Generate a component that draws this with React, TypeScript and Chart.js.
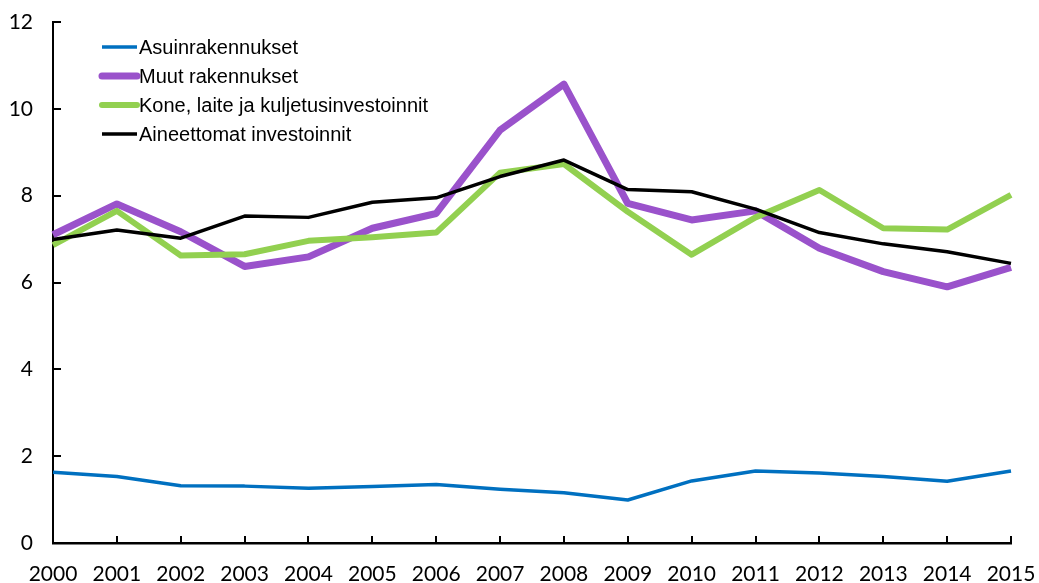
import React, { useEffect, useRef } from "react";
import { Chart, registerables } from "chart.js";

Chart.register(...registerables);

const years = ["2000","2001","2002","2003","2004","2005","2006","2007","2008","2009","2010","2011","2012","2013","2014","2015"];
const asuin = [1.63,1.53,1.32,1.31,1.26,1.30,1.35,1.24,1.16,0.99,1.43,1.66,1.61,1.53,1.42,1.66];
const muut = [7.1,7.81,7.17,6.37,6.59,7.25,7.59,9.51,10.57,7.82,7.44,7.65,6.79,6.25,5.9,6.35];
const kone = [6.86,7.65,6.62,6.65,6.96,7.04,7.15,8.53,8.73,7.63,6.64,7.5,8.13,7.25,7.22,8.02];
const aineet = [6.99,7.21,7.02,7.53,7.5,7.85,7.95,8.44,8.82,8.14,8.09,7.69,7.15,6.89,6.71,6.44];
const seriesNames = ["Asuinrakennukset","Muut rakennukset","Kone, laite ja kuljetusinvestoinnit","Aineettomat investoinnit"];
const yTicks = [0, 2, 4, 6, 8, 10, 12];

const colors = ["#0070C0", "#9A52CB", "#92D050", "#000000"];
const widths = [3.5, 7, 6, 3.5];

const innerTicks = {
  id: "innerTicks",
  afterDatasetsDraw(chart: any) {
    const { ctx, chartArea, scales } = chart;
    const x = scales.x, y = scales.y;
    ctx.save();
    ctx.strokeStyle = "#000";
    ctx.lineWidth = 2;
    ctx.beginPath();
    for (let i = 0; i < years.length; i++) {
      const px = Math.round(x.getPixelForValue(i));
      ctx.moveTo(px, chartArea.bottom);
      ctx.lineTo(px, chartArea.bottom - 7);
    }
    for (const t of yTicks) {
      const py = Math.round(y.getPixelForValue(t));
      ctx.moveTo(chartArea.left, py);
      ctx.lineTo(chartArea.left + 8, py);
    }
    ctx.stroke();
    ctx.restore();
  },
};

const customLegend = {
  id: "customLegend",
  afterDraw(chart: any) {
    const { ctx, chartArea } = chart;
    ctx.save();
    ctx.font = "20px 'Liberation Sans', Arial, sans-serif";
    ctx.textBaseline = "middle";
    ctx.fillStyle = "#000";
    seriesNames.forEach((name, i) => {
      const yy = chartArea.top + 25 + i * 29;
      const x0 = chartArea.left + 49;
      const x1 = chartArea.left + 84;
      ctx.strokeStyle = colors[i];
      ctx.lineWidth = widths[i];
      ctx.lineCap = i === 1 || i === 2 ? "round" : "butt";
      ctx.beginPath();
      ctx.moveTo(x0, yy);
      ctx.lineTo(x1, yy);
      ctx.stroke();
      ctx.fillText(name, chartArea.left + 86, yy + 1);
    });
    ctx.restore();
  },
};

export default function App() {
  const ref = useRef<HTMLCanvasElement>(null);
  useEffect(() => {
    if (!ref.current) return;
    const data = [asuin, muut, kone, aineet];
    const chart = new Chart(ref.current, {
      type: "line",
      data: {
        labels: years,
        datasets: data.map((d, i) => ({
          label: seriesNames[i],
          data: d,
          borderColor: colors[i],
          backgroundColor: colors[i],
          borderWidth: widths[i],
          pointRadius: 0,
          tension: 0,
          borderJoinStyle: "round" as const,
          order: 4 - i,
        })),
      },
      options: {
        animation: false,
        responsive: false,
        maintainAspectRatio: false,
        layout: { padding: { top: 22, right: 28, left: 0, bottom: 0 } },
        plugins: { legend: { display: false }, tooltip: { enabled: false } },
        scales: {
          x: {
            offset: false,
            grid: { display: true, drawOnChartArea: false, drawTicks: true, tickLength: 19, tickColor: "rgba(0,0,0,0)" },
            border: { display: true, color: "#000", width: 2.5 },
            ticks: {
              color: "#000",
              font: { family: "Lato, 'Open Sans', sans-serif", size: 21 },
              padding: 0,
              maxRotation: 0,
              autoSkip: false,
            },
            afterFit: (s: any) => { s.height = 40; },
          },
          y: {
            min: 0,
            max: 12,
            grid: { display: true, drawOnChartArea: false, drawTicks: true, tickLength: 20, tickColor: "rgba(0,0,0,0)" },
            border: { display: true, color: "#000", width: 2 },
            ticks: {
              stepSize: 2,
              color: "#000",
              font: { family: "Lato, 'Open Sans', sans-serif", size: 21 },
              padding: 0,
            },
            afterFit: (s: any) => { s.width = 53; },
          },
        },
      },
      plugins: [innerTicks, customLegend],
    });
    return () => chart.destroy();
  }, []);
  return (
    <div style={{ position: "fixed", left: 0, top: 0, width: 1039, height: 583, background: "#fff" }}>
      <canvas ref={ref} width={1039} height={583} style={{ display: "block" }} />
    </div>
  );
}
